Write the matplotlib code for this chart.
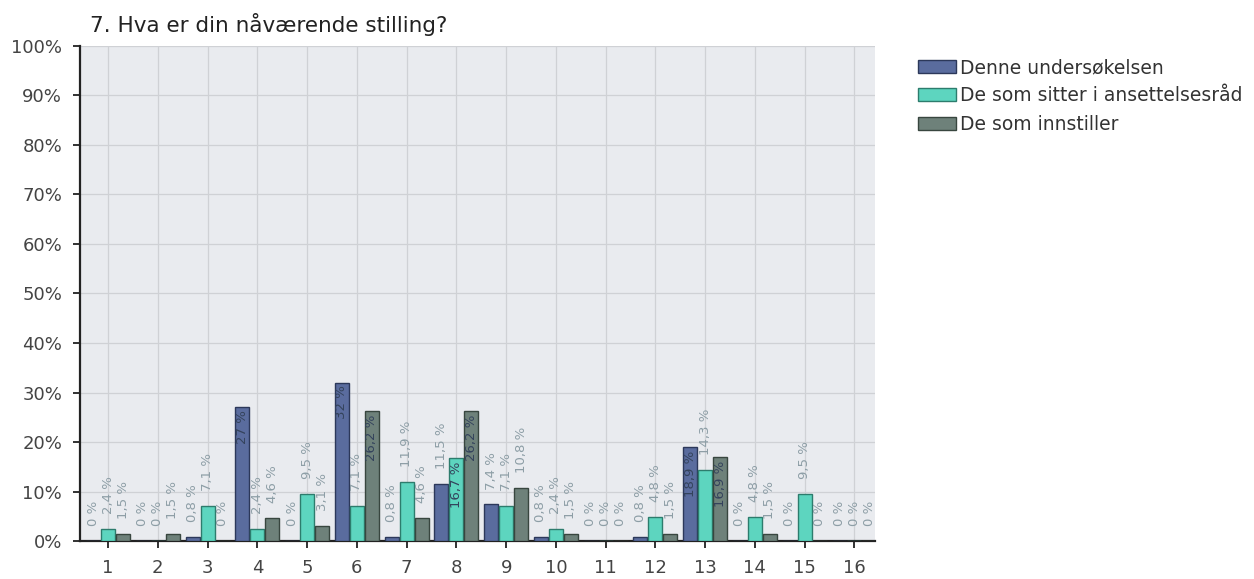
import matplotlib
matplotlib.use("Agg")
import matplotlib.pyplot as plt
import numpy as np

categories = [str(i) for i in range(1, 17)]
denne = [0, 0, 0.8, 27, 0, 32, 0.8, 11.5, 7.4, 0.8, 0, 0.8, 18.9, 0, 0, 0]
ansett = [2.4, 0, 7.1, 2.4, 9.5, 7.1, 11.9, 16.7, 7.1, 2.4, 0, 4.8, 14.3, 4.8, 9.5, 0]
innst = [1.5, 1.5, 0, 4.6, 3.1, 26.2, 4.6, 26.2, 10.8, 1.5, 0, 1.5, 16.9, 1.5, 0, 0]
series_names = ["Denne undersøkelsen", "De som sitter i ansettelsesråd", "De som innstiller"]
label_texts = [
    ["0 %", "0 %", "0,8 %", "27 %", "0 %", "32 %", "0,8 %", "11,5 %", "7,4 %", "0,8 %", "0 %", "0,8 %", "18,9 %", "0 %", "0 %", "0 %"],
    ["2,4 %", "0 %", "7,1 %", "2,4 %", "9,5 %", "7,1 %", "11,9 %", "16,7 %", "7,1 %", "2,4 %", "0 %", "4,8 %", "14,3 %", "4,8 %", "9,5 %", "0 %"],
    ["1,5 %", "1,5 %", "0 %", "4,6 %", "3,1 %", "26,2 %", "4,6 %", "26,2 %", "10,8 %", "1,5 %", "0 %", "1,5 %", "16,9 %", "1,5 %", "0 %", "0 %"],
]
colors = ["#5a6c9e", "#5dd5bf", "#6e817a"]
edges = ["#2c385a", "#2d7c6d", "#38463f"]

UI_FONT = ["DejaVu Sans"]

fig = plt.figure(figsize=(12.54, 5.79), dpi=100)
ax = fig.add_axes([0.064, 0.0656, 0.634, 0.855])
ax.set_facecolor("#e9ebef")

x = np.arange(1, 17)
w = 0.28
offsets = [-0.3, 0.0, 0.3]
data = [denne, ansett, innst]
for s in range(3):
    ax.bar(x + offsets[s], data[s], width=w, color=colors[s], edgecolor=edges[s],
           linewidth=1.0, label=series_names[s], zorder=3)
    for i, v in enumerate(data[s]):
        xi = x[i] + offsets[s]
        if v >= 15:
            ax.text(xi, v - 0.6, label_texts[s][i], rotation=90, ha="center", va="top",
                    fontsize=9.5, color="#34435c", zorder=4)
        else:
            ax.text(xi, v + 3.0, label_texts[s][i], rotation=90, ha="center", va="bottom",
                    fontsize=9.5, color="#8d9ea6", zorder=4)

ax.set_xlim(0.44, 16.42)
ax.set_ylim(0, 100)
ax.set_yticks(np.arange(0, 101, 10))
ax.set_yticklabels([f"{t}%" for t in range(0, 101, 10)], fontsize=13, color="#444444",
                   family=UI_FONT)
ax.set_xticks(x)
ax.set_xticklabels(categories, fontsize=13, color="#444444", family=UI_FONT)
ax.grid(True, color="#cfd1d5", linewidth=0.9, zorder=0)
ax.set_axisbelow(True)
for side in ["top", "right"]:
    ax.spines[side].set_visible(False)
ax.spines["left"].set_color("#222222")
ax.spines["bottom"].set_color("#222222")
ax.spines["left"].set_linewidth(1.6)
ax.spines["bottom"].set_linewidth(1.6)
ax.tick_params(axis="y", length=5, width=1.3, color="#222222", pad=8)
ax.tick_params(axis="x", length=5, width=1.3, color="#222222", pad=8)

fig.text(90 / 1254, 1 - 24 / 579, "7. Hva er din nåværende stilling?", fontsize=15.5,
         color="#222222", ha="left", va="center", family=UI_FONT)

handles, labels = ax.get_legend_handles_labels()
fig.legend(handles, labels, loc="upper left", bbox_to_anchor=(918 / 1254, 1 - 58 / 579),
           frameon=False, prop={"family": UI_FONT, "size": 13.5},
           handlelength=2.0, handleheight=0.7, handletextpad=0.25, labelspacing=0.5,
           borderpad=0, borderaxespad=0, labelcolor="#333333")

fig.savefig("out.png", dpi=100)
